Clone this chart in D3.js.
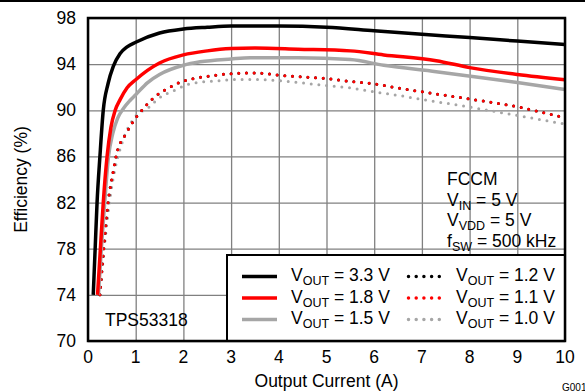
<!DOCTYPE html>
<html>
<head>
<meta charset="utf-8">
<script src="https://cdn.jsdelivr.net/npm/d3@7"></script>
<style>
  body { margin: 0; background: #fff; }
  svg text { font-family: "Liberation Sans", Arial, sans-serif; fill: #000; }
</style>
</head>
<body>
<script>
// Efficiency vs output current
const xTicks = [0, 1, 2, 3, 4, 5, 6, 7, 8, 9, 10];
const yTicks = [70, 74, 78, 82, 86, 90, 94, 98];

const current33 = [0.11, 0.15, 0.19, 0.25, 0.32, 0.42, 0.53, 0.67, 0.82, 1.0, 1.5, 2.0, 2.5, 3.0, 4.0, 5.0, 6.0, 7.0, 8.0, 9.0, 10.0];
const eff33     = [74.0, 78.0, 82.0, 86.0, 90.0, 92.3, 93.8, 94.9, 95.5, 95.9, 96.7, 97.05, 97.2, 97.3, 97.3, 97.2, 96.9, 96.6, 96.3, 96.0, 95.7];

const current18 = [0.2, 0.26, 0.32, 0.4, 0.48, 0.57, 0.67, 0.82, 1.0, 1.5, 2.0, 2.5, 3.0, 3.5, 4.4, 5.5, 6.2, 7.3, 8.0, 9.0, 10.0];
const eff18     = [74.0, 78.0, 82.0, 86.0, 88.5, 90.0, 90.9, 91.95, 92.65, 94.1, 94.8, 95.15, 95.35, 95.4, 95.3, 95.15, 94.8, 94.3, 93.7, 93.1, 92.65];

const current15 = [0.22, 0.28, 0.35, 0.43, 0.52, 0.62, 0.75, 0.88, 1.0, 1.25, 1.5, 2.0, 2.35, 3.0, 3.4, 4.4, 5.5, 6.2, 7.3, 8.3, 9.0, 10.0];
const eff15     = [74.0, 78.0, 82.0, 86.0, 88.0, 89.3, 90.2, 90.85, 91.35, 92.4, 93.1, 93.9, 94.2, 94.45, 94.55, 94.55, 94.4, 93.9, 93.35, 92.8, 92.4, 91.8];

const current11 = [0.25, 0.33, 0.42, 0.52, 0.6, 0.8, 0.95, 1.16, 1.38, 1.65, 1.93, 2.24, 2.6, 3.04, 3.53, 4.02, 4.5, 5.0, 5.5, 6.0, 6.4, 7.07, 7.97, 9.0, 10.0];
const eff11     = [74.0, 78.0, 82.0, 84.5, 86.2, 88.0, 89.05, 90.14, 91.1, 91.85, 92.42, 92.77, 93.0, 93.18, 93.24, 93.03, 92.9, 92.75, 92.5, 92.3, 92.0, 91.56, 91.0, 90.3, 89.35];

// 1.2 V curve sits under the 1.1 V curve in the reference
const current12 = current11;
const eff12     = eff11;

const current10 = [0.25, 0.34, 0.45, 0.56, 0.65, 0.74, 1.0, 1.26, 1.47, 1.85, 2.07, 2.3, 2.7, 3.04, 3.53, 4.02, 4.5, 5.0, 5.5, 6.0, 6.4, 7.07, 7.97, 9.0, 10.0];
const eff10     = [74.0, 78.0, 82.0, 84.8, 86.3, 87.5, 89.5, 90.2, 91.0, 91.8, 92.2, 92.4, 92.55, 92.66, 92.66, 92.57, 92.37, 92.14, 91.94, 91.6, 91.36, 90.9, 90.3, 89.55, 88.8];

const width = 585;
const height = 392;
const margin = { top: 18, right: 20, bottom: 51, left: 88 };
const fontSize = "17.5px";
const subSize = "12.5px";

const svg = d3.select("body")
    .append("svg")
    .attr("width", width)
    .attr("height", height);

// top rule of the datasheet page
svg.append("line")
    .attr("x1", 0).attr("x2", width)
    .attr("y1", 1).attr("y2", 1)
    .attr("stroke", "#000")
    .attr("stroke-width", 2);

const x = d3.scaleLinear()
    .domain([0, 10])
    .range([margin.left, width - margin.right]);

const y = d3.scaleLinear()
    .domain([70, 98])
    .range([height - margin.bottom, margin.top]);

// grid
svg.append("g")
    .attr("transform", `translate(0,${height - margin.bottom})`)
    .call(d3.axisBottom(x).tickValues(xTicks).tickSize(-(height - margin.bottom - margin.top)).tickFormat(""))
    .call(g => g.select(".domain").remove())
    .call(g => g.selectAll("line").attr("stroke", "#808080").attr("stroke-width", 1.3));

svg.append("g")
    .attr("transform", `translate(${margin.left},0)`)
    .call(d3.axisLeft(y).tickValues(yTicks).tickSize(-(width - margin.left - margin.right)).tickFormat(""))
    .call(g => g.select(".domain").remove())
    .call(g => g.selectAll("line").attr("stroke", "#808080").attr("stroke-width", 1.3));

// tick labels
svg.append("g")
    .selectAll("text")
    .data(xTicks)
    .enter()
    .append("text")
    .attr("x", d => x(d))
    .attr("y", height - margin.bottom + 22)
    .attr("text-anchor", "middle")
    .style("font-size", fontSize)
    .text(d => d);

svg.append("g")
    .selectAll("text")
    .data(yTicks)
    .enter()
    .append("text")
    .attr("x", margin.left - 12)
    .attr("y", d => y(d) + 6)
    .attr("text-anchor", "end")
    .style("font-size", fontSize)
    .text(d => d);

svg.append("text")
    .attr("x", (x(0) + x(10)) / 2)
    .attr("y", 387)
    .attr("text-anchor", "middle")
    .style("font-size", fontSize)
    .text("Output Current (A)");

svg.append("text")
    .attr("transform", `translate(27,${(y(70) + y(98)) / 2}) rotate(-90)`)
    .attr("text-anchor", "middle")
    .style("font-size", fontSize)
    .text("Efficiency (%)");

svg.append("text")
    .attr("x", 562)
    .attr("y", 391)
    .style("font-size", "10px")
    .text("G001");

// curves
const series = [
    { xs: current10, ys: eff10, color: "#a6a6a6", dotted: true },
    { xs: current12, ys: eff12, color: "#000000", dotted: true },
    { xs: current11, ys: eff11, color: "#ff0000", dotted: true },
    { xs: current15, ys: eff15, color: "#a6a6a6", dotted: false },
    { xs: current18, ys: eff18, color: "#ff0000", dotted: false },
    { xs: current33, ys: eff33, color: "#000000", dotted: false }
];

const line = d3.line()
    .x(d => x(d[0]))
    .y(d => y(d[1]))
    .curve(d3.curveMonotoneX);

svg.append("g")
    .selectAll("path")
    .data(series)
    .enter()
    .append("path")
    .attr("d", d => line(d.xs.map((v, i) => [v, d.ys[i]])))
    .attr("fill", "none")
    .attr("stroke", d => d.color)
    .attr("stroke-width", d => d.dotted ? 3 : 3.5)
    .attr("stroke-linecap", d => d.dotted ? "round" : "butt")
    .attr("stroke-dasharray", d => d.dotted ? "0,7.7" : null);

// legend box
const legendLeft = 227;
const legendTop = 255;
svg.append("rect")
    .attr("x", legendLeft)
    .attr("y", legendTop)
    .attr("width", x(10) - legendLeft)
    .attr("height", y(70) - legendTop)
    .attr("fill", "#fff")
    .attr("stroke", "#000")
    .attr("stroke-width", 2);

const legendItems = [
    { label: "3.3 V", color: "#000000", dotted: false, col: 0, row: 0 },
    { label: "1.8 V", color: "#ff0000", dotted: false, col: 0, row: 1 },
    { label: "1.5 V", color: "#a6a6a6", dotted: false, col: 0, row: 2 },
    { label: "1.2 V", color: "#000000", dotted: true, col: 1, row: 0 },
    { label: "1.1 V", color: "#ff0000", dotted: true, col: 1, row: 1 },
    { label: "1.0 V", color: "#a6a6a6", dotted: true, col: 1, row: 2 }
];

const legend = svg.append("g").attr("id", "legend");
const item = legend.selectAll("g")
    .data(legendItems)
    .enter()
    .append("g")
    .attr("transform", d => `translate(${d.col ? 407 : 242},${276.5 + d.row * 21.5})`);

item.append("line")
    .attr("x1", d => d.dotted ? 1.5 : 0)
    .attr("x2", d => d.dotted ? 33 : 35)
    .attr("y1", 0).attr("y2", 0)
    .attr("stroke", d => d.color)
    .attr("stroke-width", 3.5)
    .attr("stroke-linecap", d => d.dotted ? "round" : "butt")
    .attr("stroke-dasharray", d => d.dotted ? "0,7.7" : null);

const legendText = item.append("text")
    .attr("x", 49)
    .attr("y", 4.5)
    .style("font-size", fontSize);
legendText.append("tspan").text("V");
legendText.append("tspan").attr("dy", 4).style("font-size", subSize).text("OUT");
legendText.append("tspan").attr("dy", -4).text(d => " = " + d.label);

// operating conditions note
const note = svg.append("g").style("font-size", fontSize);
note.append("text").attr("x", 447).attr("y", 185).text("FCCM");
const vin = note.append("text").attr("x", 447).attr("y", 205.5);
vin.append("tspan").text("V");
vin.append("tspan").attr("dy", 4).style("font-size", subSize).text("IN");
vin.append("tspan").attr("dy", -4).text(" = 5 V");
const vvdd = note.append("text").attr("x", 447).attr("y", 226);
vvdd.append("tspan").text("V");
vvdd.append("tspan").attr("dy", 4).style("font-size", subSize).text("VDD");
vvdd.append("tspan").attr("dy", -4).text(" = 5 V");
const fsw = note.append("text").attr("x", 447).attr("y", 246.5);
fsw.append("tspan").text("f");
fsw.append("tspan").attr("dy", 4).style("font-size", subSize).text("SW");
fsw.append("tspan").attr("dy", -4).text(" = 500 kHz");

svg.append("text")
    .attr("x", 105)
    .attr("y", 326)
    .style("font-size", fontSize)
    .text("TPS53318");

// plot frame
svg.append("rect")
    .attr("x", x(0))
    .attr("y", y(98))
    .attr("width", x(10) - x(0))
    .attr("height", y(70) - y(98))
    .attr("fill", "none")
    .attr("stroke", "#000")
    .attr("stroke-width", 2.5);
</script>
</body>
</html>
